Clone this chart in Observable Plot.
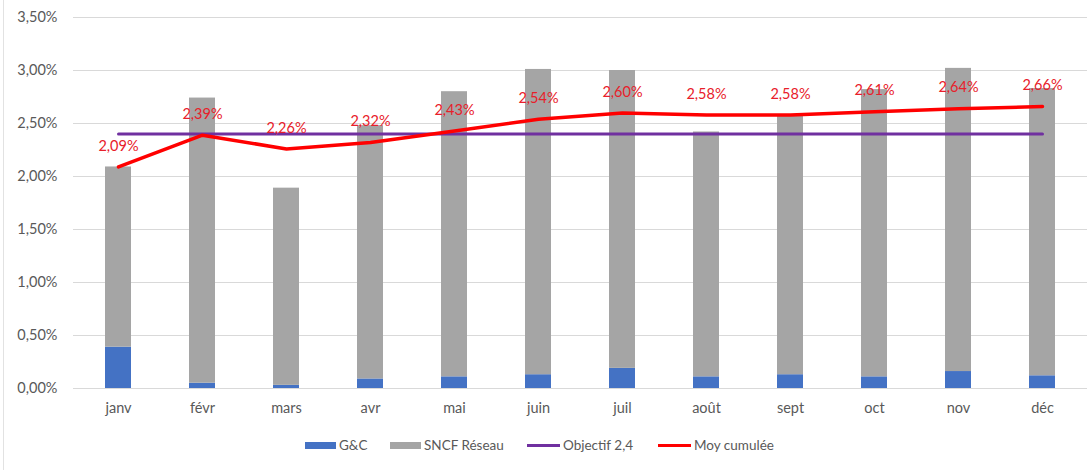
<!DOCTYPE html>
<html>
<head>
<meta charset="utf-8">
<script src="https://cdn.jsdelivr.net/npm/d3@7"></script>
<script src="https://cdn.jsdelivr.net/npm/@observablehq/plot@0.6"></script>
<style>
  html, body { margin: 0; padding: 0; background: #fff; }
  #wrap { position: relative; width: 1092px; height: 470px; overflow: hidden; font-family: Lato, "Open Sans", sans-serif; }
  #border { position: absolute; left: 3px; top: 0; width: 1px; height: 470px; background: #e2e2e2; }
  #legend { position: absolute; top: 436px; left: 0; width: 1092px; height: 18px; font-size: 13.5px; color: #595959; }
  .item { position: absolute; top: 0; display: flex; align-items: center; height: 18px; }
  .sw { display: inline-block; margin-right: 3px; }
</style>
</head>
<body>
<div id="wrap">
  <div id="border"></div>
  <div id="chart"></div>
  <div id="legend"></div>
</div>
<script>
const months = ["janv", "févr", "mars", "avr", "mai", "juin", "juil", "août", "sept", "oct", "nov", "déc"];
const gc = [0.39, 0.05, 0.03, 0.09, 0.11, 0.13, 0.19, 0.11, 0.13, 0.11, 0.16, 0.12];
const sncf = [1.70, 2.69, 1.86, 2.39, 2.69, 2.88, 2.81, 2.31, 2.44, 2.71, 2.86, 2.71];
const objectif = [2.4, 2.4, 2.4, 2.4, 2.4, 2.4, 2.4, 2.4, 2.4, 2.4, 2.4, 2.4];
const moyCumulee = [2.09, 2.39, 2.26, 2.32, 2.43, 2.54, 2.60, 2.58, 2.58, 2.61, 2.64, 2.66];
const yTicks = [0, 0.5, 1, 1.5, 2, 2.5, 3, 3.5];

const series = [
  {name: "G&C", values: gc, color: "#4472C4"},
  {name: "SNCF Réseau", values: sncf, color: "#A5A5A5"}
];
const bars = series.flatMap(s => months.map((m, i) => ({month: m, series: s.name, value: s.values[i]})));
const obj = months.map((m, i) => ({month: m, value: objectif[i]}));
const moy = months.map((m, i) => ({month: m, value: moyCumulee[i]}));
const fmt = v => v.toFixed(2).replace(".", ",") + "%";

const chart = Plot.plot({
  width: 1092,
  height: 425,
  marginLeft: 73,
  marginRight: 5,
  marginTop: 17,
  marginBottom: 37,
  style: {fontFamily: "Lato, 'Open Sans', sans-serif", fontSize: "14.5px", color: "#595959", background: "transparent"},
  x: {domain: months, paddingInner: 0.69, paddingOuter: 0.345, label: null, tickSize: 0, tickPadding: 14},
  y: {domain: [0, 3.5], ticks: yTicks, tickFormat: fmt, label: null, tickSize: 0, tickPadding: 16},
  color: {domain: series.map(s => s.name), range: series.map(s => s.color)},
  marks: [
    Plot.ruleY(yTicks, {stroke: "#D9D9D9", strokeWidth: 1}),
    Plot.barY(bars, Plot.stackY({x: "month", y: "value", fill: "series", order: series.map(s => s.name)})),
    Plot.line(obj, {x: "month", y: "value", stroke: "#7030A0", strokeWidth: 3}),
    Plot.line(moy, {x: "month", y: "value", stroke: "#FF0000", strokeWidth: 3.5, strokeLinejoin: "round", strokeLinecap: "round"}),
    Plot.text(moy, {x: "month", y: "value", text: d => fmt(d.value), dy: -21, fill: "#E8202A", fontSize: 14.5})
  ]
});
document.getElementById("chart").appendChild(chart);

const legendItems = [
  {name: "G&C", type: "rect", color: "#4472C4", left: 305},
  {name: "SNCF Réseau", type: "rect", color: "#A5A5A5", left: 390},
  {name: "Objectif 2,4", type: "line", color: "#7030A0", left: 527},
  {name: "Moy cumulée", type: "line", color: "#FF0000", left: 658}
];
const lg = document.getElementById("legend");
legendItems.forEach(it => {
  const d = document.createElement("div");
  d.className = "item";
  d.style.left = it.left + "px";
  const sw = document.createElement("span");
  sw.className = "sw";
  sw.style.width = (it.type === "rect" ? 31 : 33) + "px";
  sw.style.height = (it.type === "rect" ? 7 : 3) + "px";
  sw.style.background = it.color;
  d.appendChild(sw);
  const t = document.createElement("span");
  t.textContent = it.name;
  d.appendChild(t);
  lg.appendChild(d);
});
</script>
</body>
</html>
